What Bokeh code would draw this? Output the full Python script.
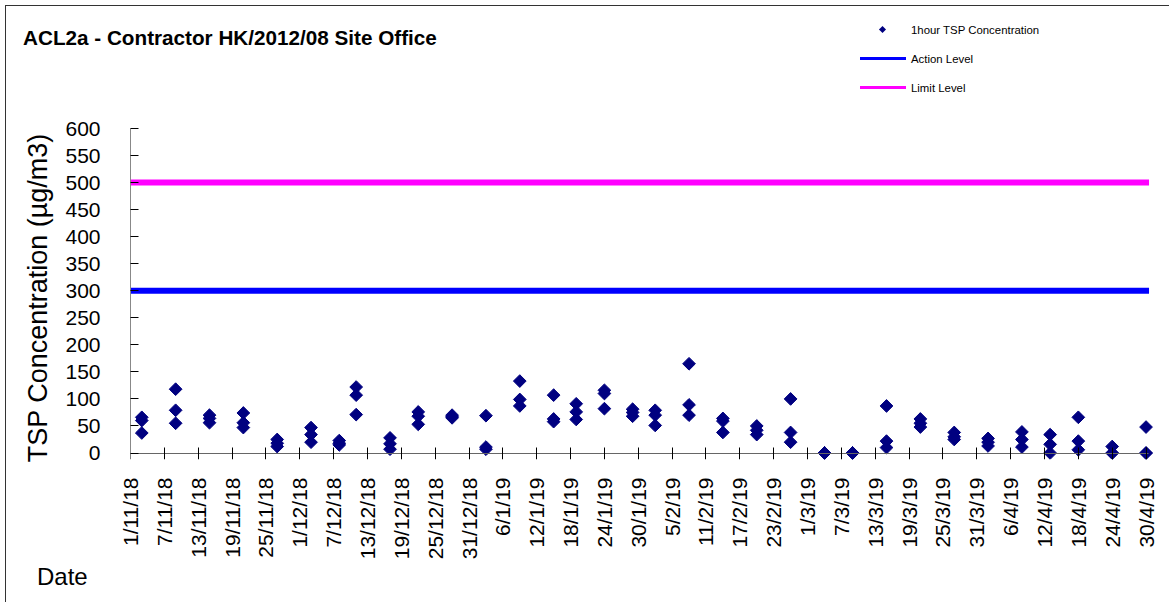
import math
import pandas as pd
from bokeh.plotting import figure
from bokeh.layouts import column
from bokeh.models import Range1d, FixedTicker, ColumnDataSource, LinearAxis, Div
from bokeh.embed import file_html
from bokeh.resources import INLINE

# ---------------- data ----------------
title_text = "ACL2a - Contractor HK/2012/08 Site Office"
y_label = "TSP Concentration  (\u00b5g/m3)"
x_label = "Date"
series_names = ["1hour TSP Concentration", "Action Level", "Limit Level"]
series_colors = ["#000080", "#0000FF", "#FF00FF"]

tick_labels = ["1/11/18", "7/11/18", "13/11/18", "19/11/18", "25/11/18", "1/12/18",
               "7/12/18", "13/12/18", "19/12/18", "25/12/18", "31/12/18", "6/1/19",
               "12/1/19", "18/1/19", "24/1/19", "30/1/19", "5/2/19", "11/2/19",
               "17/2/19", "23/2/19", "1/3/19", "7/3/19", "13/3/19", "19/3/19",
               "25/3/19", "31/3/19", "6/4/19", "12/4/19", "18/4/19", "24/4/19", "30/4/19"]
y_ticks = [0, 50, 100, 150, 200, 250, 300, 350, 400, 450, 500, 550, 600]

sample_dates = [
    "3/11/18", "3/11/18", "3/11/18",
    "9/11/18", "9/11/18", "9/11/18",
    "15/11/18", "15/11/18", "15/11/18",
    "21/11/18", "21/11/18", "21/11/18",
    "27/11/18", "27/11/18", "27/11/18",
    "3/12/18", "3/12/18", "3/12/18",
    "8/12/18", "8/12/18", "8/12/18",
    "11/12/18", "11/12/18", "11/12/18",
    "17/12/18", "17/12/18", "17/12/18",
    "22/12/18", "22/12/18", "22/12/18",
    "28/12/18", "28/12/18", "28/12/18",
    "3/1/19", "3/1/19", "3/1/19",
    "9/1/19", "9/1/19", "9/1/19",
    "15/1/19", "15/1/19", "15/1/19",
    "19/1/19", "19/1/19", "19/1/19",
    "24/1/19", "24/1/19", "24/1/19",
    "29/1/19", "29/1/19", "29/1/19",
    "2/2/19", "2/2/19", "2/2/19",
    "8/2/19", "8/2/19", "8/2/19",
    "14/2/19", "14/2/19", "14/2/19",
    "20/2/19", "20/2/19", "20/2/19",
    "26/2/19", "26/2/19", "26/2/19",
    "4/3/19", "4/3/19", "4/3/19",
    "9/3/19", "9/3/19", "9/3/19",
    "15/3/19", "15/3/19", "15/3/19",
    "21/3/19", "21/3/19", "21/3/19",
    "27/3/19", "27/3/19", "27/3/19",
    "2/4/19", "2/4/19", "2/4/19",
    "8/4/19", "8/4/19", "8/4/19",
    "13/4/19", "13/4/19", "13/4/19",
    "18/4/19", "18/4/19", "18/4/19",
    "24/4/19", "24/4/19", "24/4/19",
    "30/4/19", "30/4/19", "30/4/19",
]
tsp_values = [
    66, 60, 37,
    118, 79, 55,
    70, 64, 56,
    74, 56, 47,
    25, 18, 12,
    47, 34, 20,
    23, 18, 15,
    122, 107, 71,
    28, 17, 7,
    76, 68, 53,
    70, 67, 65,
    69, 11, 7,
    133, 99, 87,
    107, 63, 58,
    91, 76, 62,
    116, 110, 82,
    81, 75, 68,
    79, 70, 51,
    165, 89, 70,
    64, 59, 38,
    50, 42, 34,
    100, 38, 20,
    0, 0, 0,
    0, 0, 0,
    87, 22, 10,
    63, 55, 48,
    38, 30, 25,
    27, 20, 13,
    39, 25, 11,
    34, 16, 0,
    66, 22, 6,
    12, 0, 0,
    48, 0, 0,
]
level_dates = ["1/11/18", "30/4/19"]
action_level = [300, 300]
limit_level = [500, 500]


def to_ms(labels):
    d = pd.to_datetime(labels, format="%d/%m/%y")
    return [float(v) for v in (d.astype("int64") // 10**6)]


tick_ms = to_ms(tick_labels)
x_ms = to_ms(sample_dates)
lvl_ms = to_ms(level_dates)
DAY = 86400000.0
FONT = "Liberation Sans"
FONT_CSS = "'Liberation Sans', Arial, sans-serif"
W = 1163

x_start = tick_ms[0]
x_end = tick_ms[-1] + 1.5 * DAY

# ---------------- header (title + legend) as HTML text ----------------
def legend_row(i, top_px):
    name, color = series_names[i], series_colors[i]
    if i == 0:
        swatch = (f"<span style='position:absolute;left:20px;top:7px;width:5px;height:5px;"
                  f"background:{color};transform:rotate(45deg);'></span>")
    else:
        swatch = (f"<span style='position:absolute;left:0px;top:8px;width:46px;height:3px;"
                  f"background:{color};'></span>")
    return (f"<div style='position:absolute;left:854px;top:{top_px}px;height:20px;width:260px;'>"
            f"<div style='position:absolute;left:0;top:0;width:46px;height:20px;'>{swatch}</div>"
            f"<div style='position:absolute;left:51px;top:0;height:20px;line-height:20px;"
            f"font-size:11.4px;color:#000;white-space:nowrap;'>{name}</div></div>")


header_html = (
    f"<div style='position:relative;width:{W}px;height:110px;font-family:{FONT_CSS};'>"
    f"<div style='position:absolute;left:17px;top:21px;font-size:20.7px;line-height:21px;"
    f"font-weight:bold;color:#000;white-space:nowrap;'>{title_text}</div>"
    + legend_row(0, 14) + legend_row(1, 43) + legend_row(2, 72) +
    "</div>")
header = Div(text=header_html, width=W, height=110, margin=0)

# ---------------- main plot ----------------
p = figure(x_axis_type="datetime", output_backend="svg", toolbar_location=None,
           frame_width=1024, frame_height=331,
           min_border_left=124, min_border_top=12, min_border_right=15, min_border_bottom=103,
           x_range=Range1d(x_start, x_end), y_range=Range1d(-12, 600), margin=0)
p.outline_line_color = None
p.xgrid.visible = False
p.ygrid.visible = False

p.line(lvl_ms, limit_level, line_color=series_colors[2], line_width=6, line_cap="square")
p.line(lvl_ms, action_level, line_color=series_colors[1], line_width=6, line_cap="square")

src = ColumnDataSource(dict(x=x_ms, y=tsp_values))
p.scatter("x", "y", source=src, marker="square", angle=math.pi / 4, size=9,
          fill_color=series_colors[0], line_color=series_colors[0])

# x axis labels (no line, no ticks)
xa = p.xaxis[0]
xa.ticker = FixedTicker(ticks=tick_ms)
xa.major_label_overrides = {t: lab for t, lab in zip(tick_ms, tick_labels)}
xa.major_label_orientation = math.pi / 2
xa.major_label_text_font = FONT
xa.major_label_text_font_size = "21px"
xa.major_label_text_color = "black"
xa.major_label_standoff = 18
xa.major_tick_in = 0
xa.major_tick_out = 0
xa.minor_tick_in = 0
xa.minor_tick_out = 0
xa.axis_line_color = None
xa.major_tick_line_color = None

# x axis line and ticks at y = 0
xline = LinearAxis(ticker=FixedTicker(ticks=tick_ms), fixed_location=0,
                   bounds=(x_start, tick_ms[-1] + 0.4 * DAY),
                   major_label_text_font_size="0px", major_label_text_alpha=0,
                   major_label_standoff=0, major_tick_in=6, major_tick_out=6,
                   minor_tick_in=0, minor_tick_out=0,
                   axis_line_color="#666666", major_tick_line_color="black")
p.add_layout(xline, "below")

ya = p.yaxis[0]
ya.ticker = FixedTicker(ticks=y_ticks)
ya.bounds = (0, 600)
ya.major_label_text_font = FONT
ya.major_label_text_font_size = "21px"
ya.major_label_text_color = "black"
ya.major_label_standoff = 30
ya.major_tick_in = 8
ya.major_tick_out = 0
ya.minor_tick_in = 0
ya.minor_tick_out = 0
ya.axis_line_color = "#888888"
ya.major_tick_line_color = "black"
ya.axis_label = y_label
ya.axis_label_text_font = FONT
ya.axis_label_text_font_size = "27px"
ya.axis_label_text_font_style = "normal"
ya.axis_label_text_color = "black"
ya.axis_label_standoff = 9

# ---------------- footer (x label) ----------------
footer_html = (
    f"<div style='position:relative;width:{W}px;height:40px;font-family:{FONT_CSS};'>"
    f"<div style='position:absolute;left:31px;top:3px;font-size:24px;line-height:24px;"
    f"color:#000;white-space:nowrap;'>{x_label}</div></div>")
footer = Div(text=footer_html, width=W, height=40, margin=0)

layout = column(header, p, footer, spacing=0, margin=(5, 0, 0, 5),
                styles={"border-left": "1px solid #333333", "border-top": "1px solid #333333"})

open("out.html", "w").write(file_html(layout, INLINE))
